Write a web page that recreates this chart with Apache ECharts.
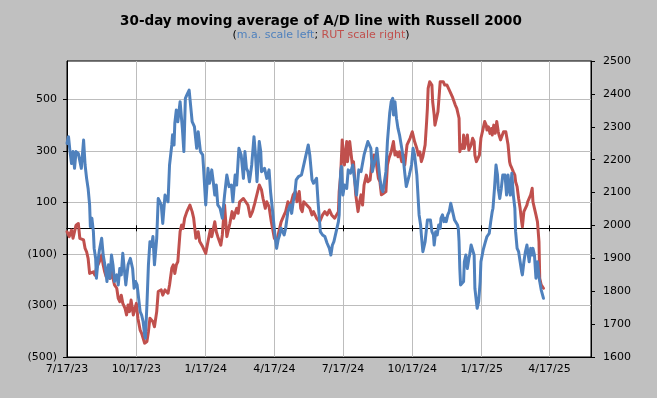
<!DOCTYPE html>
<html><head><meta charset="utf-8">
<script src="https://cdn.jsdelivr.net/npm/echarts@6/dist/echarts.min.js"></script>
<style>html,body{margin:0;padding:0;background:#c0c0c0}#c{width:657px;height:398px}</style>
</head><body><div id="c"></div>
<script>
// x values are calendar days counted from 7/17/23
const tickDays = [0, 92, 184, 275, 366, 458, 550, 640];
const tickLabels = ['7/17/23', '10/17/23', '1/17/24', '4/17/24', '7/17/24', '10/17/24', '1/17/25', '4/17/25'];
const axisEndDay = 695;
const leftTicks = [-500, -300, -100, 100, 300, 500];

const adDays = [0,2,4,6,8,10,12,15,17,19,22,24,26,28,30,31,33,35,36,38,39,41,43,46,48,51,53,55,57,59,61,63,66,68,70,72,74,78,81,84,87,89,91,93,97,99,101,103,104,106,108,110,112,114,116,119,121,123,125,127,130,132,134,136,139,140,142,143,145,147,149,150,153,155,157,159,162,166,169,172,174,177,180,181,184,187,189,192,194,196,198,200,203,206,209,212,215,218,220,223,225,228,231,234,236,238,240,242,245,248,250,252,255,257,258,262,265,268,270,273,276,278,280,282,284,288,290,293,296,298,300,302,304,307,309,311,313,315,320,322,325,327,331,333,336,339,342,345,348,350,352,354,357,360,361,362,363,364,366,368,371,373,376,379,384,387,390,394,399,403,405,407,410,411,415,417,419,423,425,428,430,432,433,435,437,439,441,444,446,448,450,454,457,459,461,464,467,469,470,472,473,475,478,480,482,484,486,487,489,491,493,495,496,498,500,502,503,505,507,509,511,512,514,516,518,519,520,521,522,524,526,527,529,531,533,534,536,538,540,541,542,544,546,548,549,552,555,557,560,562,564,565,567,569,571,572,574,576,578,580,581,583,585,587,588,590,592,594,595,597,599,601,603,604,606,608,610,611,613,615,617,618,620,622,624,626,627,629,632];
const adValues = [330,356,298,252,298,233,298,291,285,233,343,246,194,155,91,6,39,-13,-78,-117,-194,-130,-84,-39,-104,-156,-207,-142,-194,-104,-142,-207,-181,-220,-156,-181,-97,-220,-142,-117,-156,-233,-207,-220,-324,-337,-363,-415,-427,-298,-142,-52,-71,-32,-142,-39,116,110,91,19,129,136,103,246,324,363,324,408,460,414,466,492,388,298,505,518,537,414,395,311,375,298,285,240,91,233,175,227,181,129,168,91,78,39,129,207,162,168,103,207,168,311,285,194,298,233,220,181,246,356,285,181,337,298,220,233,194,227,142,58,-32,-78,-45,-26,0,-26,0,65,91,58,103,129,188,201,194,207,233,259,324,285,188,175,194,103,-13,-26,-32,-58,-78,-104,-65,-52,-13,26,52,155,220,240,129,168,155,227,214,246,129,227,220,285,337,311,220,246,285,311,194,155,142,220,337,447,492,505,440,492,427,388,363,311,272,214,162,207,246,311,285,207,52,13,-26,-91,-78,-52,32,26,32,-13,-26,-65,-13,-26,13,0,39,52,26,39,26,52,65,97,91,58,32,39,13,0,-52,-156,-220,-220,-207,-130,-104,-156,-117,-104,-65,-65,-104,-233,-259,-311,-285,-207,-130,-84,-52,-32,-20,26,65,78,155,246,207,155,116,155,207,201,207,129,207,142,129,214,129,78,-13,-78,-91,-130,-168,-181,-130,-91,-65,-65,-130,-78,-104,-78,-104,-194,-130,-188,-207,-240,-272];

const rutDays = [0,3,6,8,10,12,15,17,19,22,24,26,28,30,32,35,37,39,41,43,46,48,50,52,54,57,59,61,63,66,68,70,72,74,77,79,81,83,85,88,90,92,94,97,99,101,103,104,106,108,110,112,114,116,119,121,123,125,127,130,132,134,136,139,141,143,145,147,150,152,154,156,159,163,166,168,171,174,176,180,184,187,190,192,196,198,200,204,206,209,212,216,219,221,225,227,229,234,237,240,243,246,249,251,255,258,260,263,265,268,271,275,278,280,282,284,288,290,293,296,298,300,303,305,308,310,312,314,318,320,322,325,327,331,333,335,339,342,345,348,351,353,355,357,360,361,363,365,368,371,372,375,377,379,380,383,386,388,390,392,394,397,399,402,404,407,410,413,415,417,420,423,425,427,430,433,435,437,439,441,444,446,448,451,455,458,461,464,466,468,470,472,475,477,478,479,481,484,485,487,488,490,492,494,495,497,499,501,503,504,506,508,510,511,513,515,517,518,520,521,523,525,526,527,529,531,533,534,536,538,540,541,543,545,547,549,550,552,554,556,557,559,561,563,564,566,568,570,572,573,575,577,579,580,582,584,585,587,588,590,592,594,595,597,599,601,603,604,606,608,610,611,613,615,617,618,620,622,624,626,627,629,632];
const rutValues = [1981,1966,1986,1961,1981,2001,2006,1961,1961,1956,1930,1920,1900,1854,1849,1859,1849,1870,1870,1890,1910,1880,1859,1844,1870,1839,1859,1839,1819,1809,1778,1768,1788,1763,1748,1728,1758,1738,1773,1728,1748,1763,1718,1682,1672,1657,1642,1636,1647,1677,1718,1718,1707,1692,1738,1799,1794,1804,1788,1804,1799,1794,1819,1870,1880,1854,1880,1890,1981,2001,1991,2022,2042,2062,2042,2022,1961,1981,1951,1935,1915,1951,1986,1966,2011,1981,1966,1940,1971,2062,1966,2006,2042,2022,2052,2037,2072,2082,2072,2062,2027,2042,2067,2072,2123,2108,2082,2052,2072,2057,2011,1961,1951,1971,1991,2011,2032,2042,2072,2057,2062,2093,2103,2072,2103,2052,2042,2072,2062,2062,2052,2032,2042,2022,2022,2011,2032,2042,2032,2047,2032,2027,2022,2027,2042,2103,2153,2260,2184,2255,2194,2255,2214,2174,2194,2093,2042,2072,2093,2062,2123,2153,2133,2138,2184,2214,2194,2143,2133,2093,2098,2103,2184,2204,2224,2255,2214,2224,2209,2224,2194,2214,2184,2245,2265,2285,2255,2234,2214,2224,2194,2209,2245,2316,2356,2417,2437,2427,2376,2336,2305,2305,2346,2407,2437,2442,2437,2427,2432,2427,2417,2407,2407,2392,2397,2366,2356,2356,2326,2224,2245,2234,2275,2234,2255,2275,2229,2224,2245,2265,2255,2214,2194,2194,2214,2265,2275,2295,2316,2305,2290,2300,2280,2295,2275,2305,2280,2316,2285,2275,2260,2265,2285,2280,2285,2285,2245,2194,2184,2174,2163,2153,2133,2118,2082,2052,2011,1996,2042,2052,2062,2072,2072,2093,2113,2072,2052,2032,2011,1951,1839,1819,1809];

const FONT = 'DejaVu Sans';
const BLUE = '#4f81bd', RED = '#c0504d', GRID = '#bdbdbd';

const chart = echarts.init(document.getElementById('c'), null, {renderer: 'canvas'});
const dayLabel = v => { const i = tickDays.indexOf(Math.round(v)); return i >= 0 ? tickLabels[i] : ''; };
const zeroAxis = (pos) => ({
  type: 'value', min: 0, max: axisEndDay, position: pos, gridIndex: 0,
  axisLine: {show: true, onZero: true, onZeroAxisIndex: 0, lineStyle: {color: '#000', width: 1}},
  axisTick: {show: true, length: 3, customValues: tickDays, lineStyle: {color: '#000'}},
  axisLabel: {show: false}, splitLine: {show: false}
});

chart.setOption({
  animation: false,
  backgroundColor: '#c0c0c0',
  title: [
    {
      text: '30-day moving average of A/D line with Russell 2000',
      left: 321, top: 14, padding: 0, textAlign: 'center',
      textStyle: {fontFamily: FONT, fontSize: 13.5, fontWeight: 'bold', color: '#000'}
    },
    {
      text: '({b|m.a. scale left}; {r|RUT scale right})',
      left: 321, top: 30, padding: 0, textAlign: 'center',
      textStyle: {fontFamily: FONT, fontSize: 11, fontWeight: 'normal', color: '#000',
        rich: {b: {fontFamily: FONT, fontSize: 11, color: BLUE}, r: {fontFamily: FONT, fontSize: 11, color: RED}}}
    }
  ],
  grid: {left: 67, right: 66, top: 61, bottom: 41, show: true, backgroundColor: '#fff', borderColor: '#000', borderWidth: 1},
  xAxis: [
    {
      type: 'value', min: 0, max: axisEndDay, position: 'bottom',
      axisLine: {show: true, onZero: false, lineStyle: {color: '#000'}},
      axisTick: {show: false, customValues: tickDays},
      axisLabel: {customValues: tickDays, formatter: dayLabel, margin: 7, fontFamily: FONT, fontSize: 11, color: '#000'},
      splitLine: {show: true, lineStyle: {color: GRID, width: 1}}
    },
    zeroAxis('bottom'),
    zeroAxis('top')
  ],
  yAxis: [
    {
      type: 'value', min: -500, max: 650, position: 'left',
      axisLine: {show: true, onZero: false, lineStyle: {color: '#000'}},
      axisTick: {show: true, length: 4, customValues: leftTicks, lineStyle: {color: '#000'}},
      axisLabel: {customValues: leftTicks, margin: 10, fontFamily: FONT, fontSize: 11, color: '#000',
        formatter: v => v < 0 ? '(' + (-v) + ')' : String(v)},
      splitLine: {show: true, lineStyle: {color: GRID, width: 1}}
    },
    {
      type: 'value', min: 1600, max: 2500, interval: 100, position: 'right',
      axisLine: {show: true, onZero: false, lineStyle: {color: '#000'}},
      axisTick: {show: true, length: 4, lineStyle: {color: '#000'}},
      axisLabel: {margin: 12, fontFamily: FONT, fontSize: 11, color: '#000', formatter: v => String(v)},
      splitLine: {show: false}
    }
  ],
  series: [
    {
      name: 'RUT scale right', type: 'line', xAxisIndex: 0, yAxisIndex: 1,
      data: rutDays.map((d, i) => [d, rutValues[i]]),
      symbol: 'none', z: 3,
      lineStyle: {color: RED, width: 3, join: 'round', cap: 'round'}
    },
    {
      name: 'm.a. scale left', type: 'line', xAxisIndex: 0, yAxisIndex: 0,
      data: adDays.map((d, i) => [d, adValues[i]]),
      symbol: 'none', z: 4,
      lineStyle: {color: BLUE, width: 3, join: 'round', cap: 'round'}
    }
  ]
});
</script></body></html>
